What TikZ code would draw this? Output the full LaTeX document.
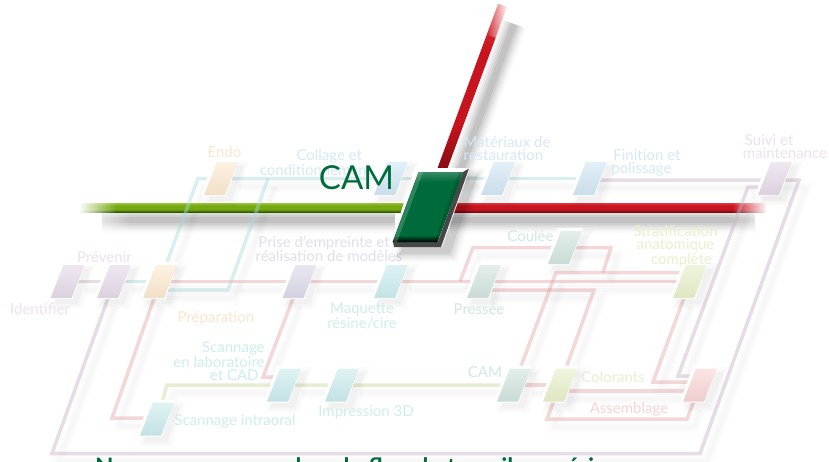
\documentclass[tikz,border=0pt]{standalone}
\usepackage{fontspec}
\setmainfont{Lato}
\usetikzlibrary{fadings}
\pgfdeclarelayer{shad}\pgfdeclarelayer{bars}\pgfdeclarelayer{conn}\pgfdeclarelayer{halo}
\pgfsetlayers{shad,bars,conn,halo,main}
\definecolor{nPur}{HTML}{E3D8E6}\definecolor{nOra}{HTML}{FBE8CE}\definecolor{nBlu}{HTML}{CFE5F3}
\definecolor{nLav}{HTML}{D9D8E8}\definecolor{nTea}{HTML}{C9EAEC}\definecolor{nMin}{HTML}{CFE3DC}
\definecolor{nLim}{HTML}{E6EFC8}\definecolor{nPin}{HTML}{F8D3D3}
\definecolor{cTea}{HTML}{A8DADC}\definecolor{cRed}{HTML}{E6A3A3}\definecolor{cPur}{HTML}{C5B0C5}\definecolor{cLim}{HTML}{C8D998}
\definecolor{tOra}{HTML}{FBE6CF}\definecolor{tBlu}{HTML}{D5E9F5}\definecolor{tLav}{HTML}{E0DFEE}\definecolor{tPur}{HTML}{EDE2EE}
\definecolor{tTea}{HTML}{CFEDEF}\definecolor{tMin}{HTML}{D2E8E0}\definecolor{tLim}{HTML}{E9F0CC}\definecolor{tPin}{HTML}{F9D4D4}
\definecolor{camG}{HTML}{006B3A}\definecolor{gA}{HTML}{9CC437}\definecolor{gB}{HTML}{76A812}\definecolor{gC}{HTML}{2F5A00}
\definecolor{rA}{HTML}{DC3A42}\definecolor{rB}{HTML}{C8141E}\definecolor{rC}{HTML}{7A0A10}
\definecolor{cT}{HTML}{3A8A66}
\pgfdeclareverticalshading{greenbar}{100bp}{color(0bp)=(gC);color(25bp)=(gC);color(40bp)=(gB);color(60bp)=(gB);color(75bp)=(gA);color(100bp)=(gA)}
\pgfdeclareverticalshading{redbar}{100bp}{color(0bp)=(rC);color(25bp)=(rC);color(40bp)=(rB);color(60bp)=(rB);color(75bp)=(rA);color(100bp)=(rA)}
\pgfdeclareverticalshading{mainbevel}{100bp}{color(0bp)=(black);color(25bp)=(black);color(30bp)=(camG);color(68bp)=(camG);color(75bp)=(cT);color(100bp)=(cT)}
\tikzfading[name=fadeR,left color=transparent!0,right color=transparent!100]
\tikzfading[name=fadeL,left color=transparent!100,right color=transparent!0]
\tikzset{
  smallnode/.style={xslant=.39,minimum width=21pt,minimum height=33pt,inner sep=0pt,outer sep=0pt,
     top color=#1!60!white,bottom color=#1!92!gray},
  lbl/.style={inner sep=0pt,text=#1,align=center,font=\fontsize{15}{13}\selectfont},
  wire/.style={line width=3.5pt,line join=miter,opacity=.43}
}
\newcommand\pg[3]{(#1-4-#3,#2-16.5-#3) -- (#1+17+#3,#2-16.5-#3) -- (#1+4+#3,#2+16.5+#3) -- (#1-17-#3,#2+16.5+#3) -- cycle}
\newcommand\pnode[4]{%
  \begin{pgfonlayer}{halo}
    \foreach \k/\o in {7/.008,5/.012,3/.016,1/.02}{\fill[black,opacity=\o] \pg{#2+5}{#3+5}{\k};}
    \fill[white] \pg{#2-1}{#3-1}{2};
  \end{pgfonlayer}
  \node[smallnode=#4] (#1) at (#2,#3) {};}
\newcommand\cn[2]{%
  \begin{pgfonlayer}{shad}
    \foreach \w/\o in {13/.005,10/.007,7/.009,4/.01}{\draw[black,opacity=\o,line width=\w pt,transform canvas={xshift=7pt,yshift=-8pt}] #2;}
  \end{pgfonlayer}
  \begin{pgfonlayer}{conn}\draw[wire,#1] #2;\end{pgfonlayer}}
\begin{document}
\begin{tikzpicture}[x=1pt,y=-1pt]
\path[use as bounding box,clip] (0,0) rectangle (829,461);
% bars
\begin{pgfonlayer}{shad}
  \fill[white] (0,0) rectangle (829,461);
  \foreach \w/\o in {26/.02,22/.03,18/.04,14/.05,10/.06,6/.06}{
    \draw[black,opacity=\o,line width=\w pt] (102,220) -- (395,220);
    \draw[black,opacity=\o,line width=\w pt] (450,220) -- (755,220);
    \draw[black,opacity=\o,line width=\w pt] (457,180) -- (514,24);
  }
  \fill[white,path fading=fadeR] (80,205) rectangle (130,236);
  \fill[white,path fading=fadeL] (730,205) rectangle (775,236);
  \fill[white] (490,0) rectangle (540,5);
\end{pgfonlayer}
\begin{pgfonlayer}{bars}
  \shade[shading=greenbar] (80,203) rectangle (405,212);
  \fill[white,path fading=fadeR] (79,202) rectangle (116,213);
  \shade[shading=redbar] (450,203) rectangle (766,212);
  \fill[white,path fading=fadeL] (732,202) rectangle (767,213);
  \begin{scope}[shift={(440,175)},rotate=69.75,x=1pt,y=1pt]
    \shade[shading=redbar] (0,-4.7) rectangle (185,4.7);
    \fill[white,path fading=fadeL] (148,-5.5) rectangle (182,5.5);
    \fill[white] (181,-5.5) rectangle (190,5.5);
  \end{scope}
\end{pgfonlayer}
% small nodes
\pnode{nId}{67.5}{281.5}{nPur}
\pnode{nPrev}{114}{281.5}{nPur}
\pnode{nPrep}{160}{281.5}{nOra}
\pnode{nEndo}{221}{178.5}{nOra}
\pnode{nColl}{391}{178.5}{nBlu}
\pnode{nMat}{498}{178.5}{nBlu}
\pnode{nFin}{590}{178.5}{nBlu}
\pnode{nSuivi}{775}{178.5}{nPur}
\pnode{nPrise}{299.5}{281.5}{nLav}
\pnode{nMaq}{391}{281.5}{nTea}
\pnode{nPres}{484}{281.5}{nMin}
\pnode{nCoul}{565}{247.5}{nMin}
\pnode{nStrat}{690}{281.5}{nLim}
\pnode{nLab}{284}{385}{nTea}
\pnode{nImp}{342}{385}{nTea}
\pnode{nIntra}{157}{419}{nTea}
\pnode{nCamS}{514}{385}{nMin}
\pnode{nCol}{560}{385}{nLim}
\pnode{nAss}{700}{385}{nPin}
% bend coordinates
\coordinate (b1) at (198,178.5);
\coordinate (b2) at (228,290);
\coordinate (b3) at (268,178.5);
\coordinate (b4) at (473,247.5);
\coordinate (b5) at (460,281.5);
\coordinate (b6) at (611,247.5);
\coordinate (b7) at (603,272.5);
\coordinate (b8) at (556,272.5);
\coordinate (b9) at (594,290);
\coordinate (b10) at (653,382);
\coordinate (b11) at (748,187);
\coordinate (b12) at (678,376);
\coordinate (b13) at (799,180);
\coordinate (b14) at (700,453.5);
\coordinate (b15) at (52,453.5);
\coordinate (b16) at (112,418);
\coordinate (b17) at (263,377);
\coordinate (b18) at (167,385);
\coordinate (b19) at (547,419);
\coordinate (b20) at (687,419);
% connectors
\cn{cPur}{(nId) -- (nPrev)}
\cn{cTea}{(nPrev) -- (nPrep)}
\cn{cTea}{(nPrep) -- (b1) -- (nEndo) -- (nColl)}
\cn{cTea}{(nPrep |- b2) -- (b2) -- (b3)}
\cn{cTea}{(nColl) -- (nMat) -- (nFin)}
\cn{cPur}{(nFin |- b13) -- (nSuivi |- b13) -- (b13) -- (b14) -- (b15) -- (nPrev)}
\cn{cPur}{(nSuivi |- b11) -- (b11) -- (b12) -- (nAss |- b12)}
\cn{cRed}{(nPrep) -- (nPrise) -- (nMaq) -- (nPres) -- (nStrat)}
\cn{cRed}{(b5) -- (b4) -- (nCoul |- b4) -- (b6) -- (b7)}
\cn{cRed}{(nStrat |- b8) -- (b8) -- (nCamS)}
\cn{cRed}{(nPres |- b9) -- (b9) -- (nCol)}
\cn{cRed}{(nStrat) -- (b10) -- (nAss |- b10)}
\cn{cRed}{(nPrep) -- (b16) -- (nIntra |- b16)}
\cn{cRed}{(nPrise) -- (b17) -- (nLab |- b17)}
\cn{cLim}{(nIntra) -- (b18) -- (nLab) -- (nImp) -- (nCamS)}
\cn{cRed}{(nCamS) -- (nCol)}
\cn{cRed}{([yshift=-6pt]nCol.center) -- ([yshift=-6pt]nAss.center)}
\cn{cRed}{(nCol) -- (b19) -- (b20) -- (nAss)}
% labels
\node[lbl=tOra] (lEndo) at (224.5,152) {Endo};
\node[lbl=tBlu,align=right] (lColl) at (316,162.5) {Collage et\hspace*{10pt}\\conditionnement};
\node[lbl=tPur] (lId) at (40,309.5) {Identifier};
\node[lbl=tPur] (lPrev) at (104.5,257) {Prévenir};
\node[lbl=tOra] (lPrep) at (216,318) {Préparation};
\node[lbl=tLav] (lPrise) at (329,249) {Prise d’empreinte et\hspace*{10pt}\\réalisation de modèles};
\node[lbl=tTea] (lMaq) at (362,316) {Maquette\\résine/cire};
\node[lbl=tBlu,align=left] (lMat) at (507,148.5) {Matériaux de\\restauration};
\node[lbl=tBlu,align=left] (lFin) at (646,163) {\hspace*{2pt}Finition et\\polissage};
\node[lbl=tPur,align=left] (lSuivi) at (785,147) {\hspace*{2pt}Suivi et\\maintenance};
\node[lbl=tMin] (lCoul) at (530.5,236) {Coulée};
\node[lbl=tMin] (lPres) at (479,309.5) {Pressée};
\node[lbl=tLim] (lStrat) at (675.5,246) {Stratification\\anatomique\\\hspace*{12pt}complète};
\node[lbl=tTea,align=right] (lLab) at (219,361) {Scannage\\en laboratoire\hspace*{2pt}\\et CAD\hspace*{6pt}};
\node[lbl=tTea] (lImp) at (366,412) {Impression 3D};
\node[lbl=tTea] (lIntra) at (235,421) {Scannage intraoral};
\node[lbl=tMin] (lCam) at (485,372) {CAM};
\node[lbl=tLim] (lCol) at (613,377) {Colorants};
\node[lbl=tPin] (lAss) at (629,409.5) {Assemblage};
% main node
\foreach \k/\o in {9/.02,7/.03,5/.04,3/.05,1/.07}{
  \fill[black,opacity=\o] (428-\k,177-\k) -- (476+\k,177-\k) -- (449+\k,253+\k) -- (401-\k,253+\k) -- cycle;
}
\fill[white] (415,168) -- (470,168) -- (442,247) -- (391,243) -- cycle;
\fill[black!72] (463,172) -- (469,168.5) -- (441,247) -- (394,247) -- (393,242) -- (438,242) -- cycle;
\node[xslant=.37,minimum width=45pt,minimum height=70pt,inner sep=0pt,outer sep=0pt,shading=mainbevel] (nMain) at (428,207) {};
\fill[white,opacity=.18] (419,172) -- (423,172) -- (397,242) -- (393,242) -- cycle;
\fill[black,opacity=.15] (459,172) -- (463,172) -- (438,242) -- (434,242) -- cycle;
\node[inner sep=0pt,text=camG,font=\fontsize{33}{33}\selectfont] (lMain) at (356.5,177.5) {CAM};
\node[inner sep=0pt,anchor=base west,text=camG,font=\fontsize{24}{24}\selectfont\bfseries] (lTitle) at (95,475) {Nouveaux usages dans le flux de travail numérique};
\end{tikzpicture}
\end{document}
